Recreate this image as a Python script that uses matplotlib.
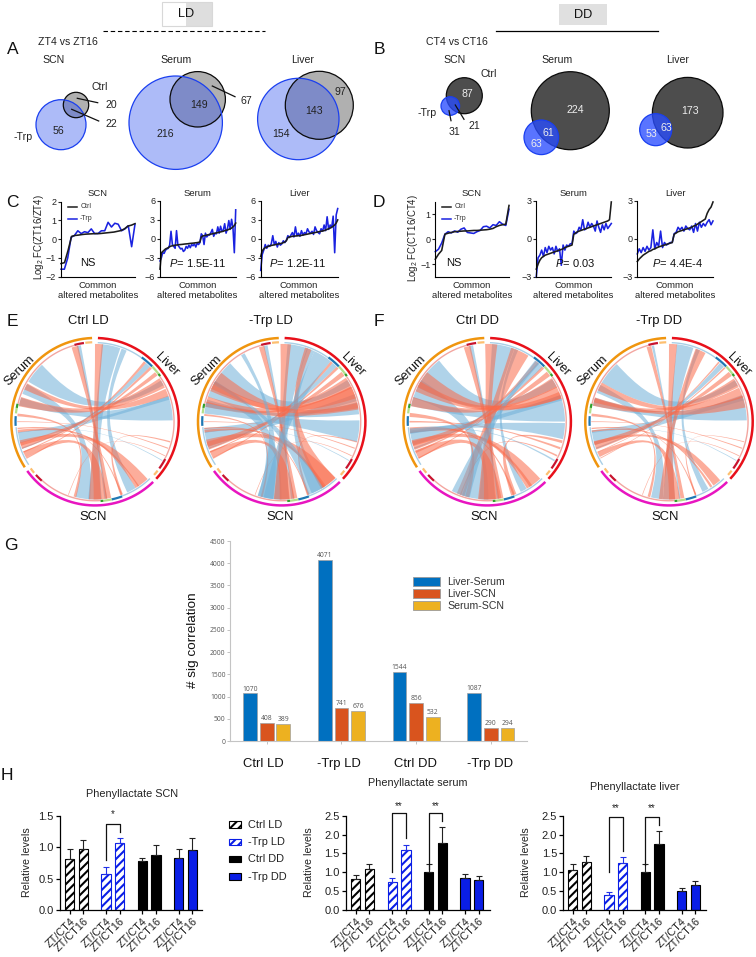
import numpy as np
import matplotlib
matplotlib.use('Agg')
import matplotlib.pyplot as plt
from matplotlib.patches import Circle, Rectangle, PathPatch
from matplotlib.path import Path

plt.rcParams['font.family'] = ['Liberation Sans', 'DejaVu Sans']
plt.rcParams['mathtext.fontset'] = 'custom'
plt.rcParams['mathtext.rm'] = 'Liberation Sans'
plt.rcParams['mathtext.it'] = 'Liberation Sans:italic'
plt.rcParams['mathtext.default'] = 'regular'
plt.rcParams['hatch.linewidth'] = 1.5

W, H = 756, 957

# ---------- data ----------
VENN_A_COUNTS = [('20', 111, 105), ('22', 111, 124), ('56', 58, 131), ('216', 165.7, 134), ('149', 199, 105),
                 ('67', 246.7, 101), ('154', 280.7, 134), ('143', 314, 111), ('97', 340, 92)]
VENN_B_COUNTS_DARK = [('31', 454, 132), ('21', 474, 126.3)]
VENN_B_COUNTS_WHITE = [('87', 467.3, 94.3), ('224', 575, 110), ('61', 548, 132.7), ('63', 536.3, 144),
                       ('173', 689.7, 111.3), ('63', 666.3, 128), ('53', 651.3, 134)]
# (centre x, centre y, radius) in picture pixels, Ctrl then -Trp
VENN_A = [((76, 105, 12.7), (61, 124.7, 25)),
          ((197.7, 99.3, 27.7), (175.7, 122.7, 46.7)),
          ((319.3, 105.3, 34), (298.3, 119, 40.7))]
VENN_B = [((464.3, 95.7, 18), (450.3, 106, 9.3)),
          ((570.3, 110.7, 39), (541.3, 137.3, 17.3)),
          ((687.7, 112.7, 35.3), (655.7, 129.7, 16))]

C_SCN_CTRL = [-1.3, -1.25, -0.6, 0.15, 0.2, 0.22, 0.25, 0.27, 0.28, 0.29, 0.3, 0.3, 0.32, 0.34, 0.36, 0.38, 0.42, 0.46, 0.55, 0.7, 0.75, 0.83]
C_SCN_TRP = [-1.6, -1.6, -1.0, 0.1, 0.2, 0.45, 0.3, 0.4, 0.35, 0.55, 0.3, 0.3, 0.45, 0.45, 0.9, 0.65, 0.85, 0.8, 0.45, 0.55, 0.72, -0.4, 0.8]
C_SERUM_CTRL = [-4.8, -2.2, -2.0, -1.8, -1.6, -1.5, -1.4, -1.25, -1.15, -1.1, -1.05, -1.0, -0.98, -0.95, -0.92, -0.9, -0.88, -0.85, -0.82, -0.8, -0.78, -0.75, -0.72, -0.7, -0.68, -0.65, -0.62, -0.6, -0.55, -0.5, 0.3, 0.45, 0.5, 0.55, 0.6, 0.65, 0.7, 0.75, 0.8, 0.85, 0.9, 0.95, 1.0, 1.05, 1.1, 1.15, 1.2, 1.3, 1.35, 1.4, 1.5, 1.6, 1.7, 1.9, 2.1, 2.5]
C_SERUM_TRP = [-3.5, -3.0, -2.2, -2.3, -1.8, -1.6, -1.5, -1.0, 1.2, -0.9, -1.2, -1.5, 1.3, -1.0, -1.3, -1.6, -1.5, -2.0, -1.8, -1.2, -1.5, -1.0, -1.4, -0.9, -1.1, -0.8, -1.3, -0.7, -0.9, -0.6, 0.8, 0.5, -0.9, 0.9, 0.3, 0.6, 0.6, 1.0, 1.5, 0.4, 0.9, 0.8, 1.9, 0.9, 2.0, 1.2, 1.4, 2.4, 0.9, 1.6, 2.9, 1.5, 3.1, 1.8, -2.2, 4.6]
C_LIVER_CTRL = [-2.8, -1.9, -1.6, -1.4, -1.3, -1.2, -1.1, -1.05, -1.0, -0.95, -0.9, -0.85, -0.8, -0.75, -0.7, -0.6, -0.5, -0.3, 0.2, 0.3, 0.35, 0.4, 0.42, 0.45, 0.48, 0.5, 0.52, 0.55, 0.6, 0.65, 0.7, 0.75, 0.8, 0.85, 0.9, 0.95, 1.0, 1.05, 1.1, 1.15, 1.2, 1.25, 1.3, 1.4, 1.5, 1.6, 1.7, 1.85, 2.0, 2.2, 2.5, 3.0]
C_LIVER_TRP = [-5.0, -2.5, -1.8, -0.9, -1.5, -1.0, -1.2, -0.8, 0.5, -0.9, -0.4, -1.3, -0.6, -1.0, -0.8, -0.3, -0.6, -0.2, 0.5, 0.2, 0.6, 1.0, 0.3, 1.9, 0.5, 0.9, 0.4, 1.3, 0.6, 1.0, 0.8, 1.6, 1.1, 0.9, 1.2, 0.7, 1.9, 1.3, 1.0, 0.8, 1.6, 1.2, 2.2, 1.3, 3.5, 1.5, 2.2, 1.8, 3.6, -2.2, 3.8, 4.8]
D_SCN_CTRL = [-0.8, -0.6, -0.45, 0.2, 0.24, 0.27, 0.3, 0.31, 0.32, 0.33, 0.33, 0.34, 0.35, 0.35, 0.36, 0.37, 0.38, 0.4, 0.43, 0.5, 0.55, 0.58, 0.6, 1.35]
D_SCN_TRP = [-0.5, -0.4, -0.15, 0.2, 0.3, 0.25, 0.33, 0.28, 0.4, 0.45, 0.27, 0.25, 0.23, 0.3, 0.35, 0.5, 0.52, 0.45, 0.58, 0.55, 0.7, 0.6, 0.55, 1.2]
D_SERUM_CTRL = [-2.4, -2.0, -1.7, -1.5, -1.4, -1.3, -1.25, -1.2, -1.15, -1.1, -1.05, -1.0, -0.95, -0.9, -0.85, -0.8, -0.7, -0.65, -0.6, -0.55, -0.5, 0.35, 0.45, 0.55, 0.6, 0.65, 0.7, 0.75, 0.8, 0.85, 0.9, 0.95, 1.0, 1.05, 1.1, 1.15, 1.2, 1.25, 1.3, 1.35, 1.4, 1.5, 2.9]
D_SERUM_TRP = [-3.0, -1.5, -1.3, -0.9, -1.4, -0.7, -1.1, -0.6, -0.9, -0.7, -1.2, -0.6, -1.0, -0.8, -2.1, -0.5, -0.9, -0.5, -0.6, -0.4, -0.4, 0.6, 0.4, 0.5, 0.9, 0.7, 1.5, 0.7, 0.8, 1.3, 0.9, 1.2, 1.0, 0.6, 1.4, 0.9, 0.5, 1.1, 0.7, 1.2, 0.8, 1.0, 1.2]
D_LIVER_CTRL = [-1.8, -1.6, -1.45, -1.3, -1.2, -1.1, -1.0, -0.95, -0.85, -0.8, -0.72, -0.65, -0.6, -0.55, -0.5, -0.45, -0.4, -0.35, -0.3, 0.35, 0.45, 0.55, 0.6, 0.65, 0.7, 0.75, 0.8, 0.85, 0.9, 1.0, 1.05, 1.15, 1.25, 1.35, 1.45, 1.55, 2.0, 2.3, 2.5, 2.9]
D_LIVER_TRP = [-1.2, -0.8, -1.1, -0.7, -1.0, -0.6, -0.9, -0.7, 0.7, -0.8, -0.3, -0.6, 0.6, -0.7, -0.3, -0.5, -0.4, -0.3, -0.3, 0.4, 0.5, 0.9, 0.7, 0.9, 0.6, 1.0, 0.8, 0.7, 1.0, 0.5, 1.2, 0.6, 1.3, 0.9, 1.2, 1.0, 1.3, 1.5, 1.1, 1.4]

# chords: centre angle and width at both ends, in degrees clockwise from the top
BASE_A = [80, 309, 12, 258, 189, 152, 43, 348, 120, 60, 68, 254, 245, 180, 345, 110, 116, 46, 40, 275, 265, 160, 147, 252]
BASE_AW = [18, 16, 14, 8, 11, 7, 4, 3, 0.6, 8, 6, 4, 5, 9, 5, 0.8, 0.6, 2, 2, 2, 1, 2, 3, 5]
BASE_B = [285, 60, 180, 72, 295, 22, 250, 172, 262, 285, 297, 142, 176, 3, 170, 270, 200, 242, 247, 195, 160, 105, 263, 52]
BASE_BW = [6, 4, 10, 3, 8, 4, 1, 2, 0.5, 7, 5, 9, 10, 6, 4, 0.6, 0.5, 1, 1, 2, 1, 1, 2, 3]
BASE_KIND = list('bbbbbbbbbrrrrrrrrrrrrrrr')
SCALE_CTRL_LD = [1.0] * 24
SCALE_TRP_LD = [0.5, 1.2, 1.1, 1.8, 1.6, 1.5, 1, 1, 1, 1.1, 1.5, 1.3, 1.1, 1.3, 0.8, 1, 1, 1, 1, 0.7, 1, 1, 1, 1.2]
SCALE_CTRL_DD = [1.1, 1.6, 1.2, 1.4, 1.8, 0.7, 1.2, 1, 2, 1.0, 1.6, 1.1, 1.3, 1.5, 1.0, 2, 2, 1, 1.4, 1.5, 1.5, 2, 1.5, 1.3]
SCALE_TRP_DD = [1.0, 1.1, 0.9, 1.4, 0.8, 0.7, 1, 0.6, 1, 0.9, 1.3, 0.7, 0.8, 1.0, 0.7, 1, 1, 0.6, 0.6, 1, 1, 0.6, 0.6, 1.2]
EXTRA_CTRL_LD = []
EXTRA_TRP_LD = [(72, 18, 283, 4, 'r'), (97, 16, 280, 8, 'b'), (143, 13, 20, 5, 'r'), (154, 12, 300, 3, 'b'),
                (32, 14, 190, 7, 'b'), (302, 14, 78, 4, 'r'), (192, 12, 330, 3, 'b')]
EXTRA_CTRL_DD = [(25, 14, 200, 6, 'r'), (97, 12, 263, 4, 'b'), (200, 14, 40, 4, 'b'), (303, 13, 70, 5, 'r')]
EXTRA_TRP_DD = [(75, 9, 286, 3, 'r'), (24, 8, 186, 3, 'r')]

G_GROUPS = ['Ctrl LD', '-Trp LD', 'Ctrl DD', '-Trp DD']
G_LIVER_SERUM = [1070, 4071, 1544, 1087]
G_LIVER_SCN = [408, 741, 856, 290]
G_SERUM_SCN = [389, 676, 532, 294]
G_SERIES = ['Liver-Serum', 'Liver-SCN', 'Serum-SCN']

H_TICKS = ['ZT/CT4', 'ZT/CT16'] * 4
H_SCN = [0.81, 0.97, 0.58, 1.07, 0.78, 0.87, 0.82, 0.95]
H_SCN_TOP = [0.97, 1.11, 0.68, 1.14, 0.83, 1.03, 0.97, 1.15]
H_SERUM = [0.82, 1.10, 0.73, 1.60, 1.02, 1.78, 0.84, 0.80]
H_SERUM_TOP = [0.92, 1.21, 0.85, 1.72, 1.21, 2.19, 0.95, 0.89]
H_LIVER = [1.05, 1.27, 0.39, 1.25, 1.01, 1.74, 0.50, 0.65]
H_LIVER_TOP = [1.22, 1.42, 0.47, 1.40, 1.23, 2.09, 0.58, 0.78]
H_GROUPS = ['Ctrl LD', '-Trp LD', 'Ctrl DD', '-Trp DD']

BLUE = '#0a1ee6'

# ---------- canvas ----------
fig = plt.figure(figsize=(W / 100, H / 100), dpi=100, facecolor='white')
ov = fig.add_axes([0, 0, 1, 1], zorder=5)
ov.set_xlim(0, W); ov.set_ylim(H, 0); ov.axis('off'); ov.patch.set_alpha(0)


def T(x, y, s, size=7.6, color='#111111', **kw):
    kw.setdefault('ha', 'center'); kw.setdefault('va', 'center')
    ov.text(x, y, s, fontsize=size, color=color, **kw)


def px_axes(x0, x1, top, bot):
    a = fig.add_axes([x0 / W, 1 - bot / H, (x1 - x0) / W, (bot - top) / H])
    for s in ('top', 'right'):
        a.spines[s].set_visible(False)
    return a


for s, x, y in [('A', 12.7, 50), ('B', 379, 50), ('C', 12.7, 202.7), ('D', 379, 202.7), ('E', 12.7, 321),
                ('F', 379, 321), ('G', 11, 546), ('H', 7, 775)]:
    T(x, y, s, 12.5, '#111111')

# header boxes
ov.add_patch(Rectangle((161.7, 1.5), 24.3, 24, fc='white', ec='none'))
ov.add_patch(Rectangle((186, 1.5), 25.7, 24, fc='#dedede', ec='none'))
ov.add_patch(Rectangle((161.7, 1.5), 50, 24, fc='none', ec='#d8d8d8', lw=0.8))
T(186, 14, 'LD', 9.2)
ov.plot([103, 265], [31.3, 31.3], color='k', lw=0.8, ls=(0, (4, 2.5)))
ov.add_patch(Rectangle((559, 4), 48, 21, fc='#e0e0e0', ec='none'))
T(583, 14.7, 'DD', 9.2)
ov.plot([496.3, 658], [31.3, 31.3], color='k', lw=0.9)

# ---------- Venn ----------
for c, b in VENN_A:
    ov.add_patch(Circle(c[:2], c[2], fc='#b0b0b0', ec='none'))
    ov.add_patch(Circle(b[:2], b[2], fc='#3355ee', alpha=0.4, ec='none'))
    ov.add_patch(Circle(c[:2], c[2], fc='none', ec='#0a0a0a', lw=0.9))
    ov.add_patch(Circle(b[:2], b[2], fc='none', ec='#1a3ff0', lw=0.9))
for c, b in VENN_B:
    ov.add_patch(Circle(c[:2], c[2], fc='#4d4d4d', ec='#0a0a0a', lw=0.9))
    ov.add_patch(Circle(b[:2], b[2], fc='#2a4dff', alpha=0.78, ec='none'))
    ov.add_patch(Circle(b[:2], b[2], fc='none', ec='#1a3ff0', lw=0.9))
for s, x, y in [('ZT4 vs ZT16', 67.7, 42), ('SCN', 54, 60), ('Serum', 175.7, 60), ('Liver', 302.3, 60), ('Ctrl', 100, 87),
                ('-Trp', 22.7, 137), ('CT4 vs CT16', 457, 42), ('SCN', 454.7, 60), ('Serum', 557.3, 60), ('Liver', 677.3, 60),
                ('Ctrl', 488.7, 74), ('-Trp', 427.3, 113)]:
    T(x, y, s, 7.6, '#222222')
for s, x, y in VENN_A_COUNTS + VENN_B_COUNTS_DARK:
    T(x, y, s, 7.6, '#222222')
for s, x, y in VENN_B_COUNTS_WHITE:
    T(x, y, s, 7.6, '#eeeeee')
for xs, ys in [((77.3, 97.7), (98.3, 102.7)), ((71.7, 98.7), (109.3, 121)), ((212.3, 235), (86, 96.7)),
               ((449, 451), (110.7, 120.7)), ((455.3, 464), (105, 119.3))]:
    ov.plot(xs, ys, color='#111111', lw=0.9)


# ---------- line panels ----------
def line_panel(box, ctrl, trp, ylim, ticks):
    a = px_axes(*box)
    a.plot(np.linspace(0, 1, len(trp)), trp, color='#1a22e0', lw=1.15, clip_on=False)
    a.plot(np.linspace(0, 1, len(ctrl)), ctrl, color='#1c1c1c', lw=1.15, clip_on=False)
    a.set_xlim(0, 1); a.set_ylim(*ylim)
    a.set_xticks([]); a.set_yticks(ticks)
    a.tick_params(axis='y', labelsize=6.5, length=2.5, width=0.8, pad=1, colors='#222222')
    for s in ('left', 'bottom'):
        a.spines[s].set_linewidth(0.8)
    return a


line_panel((61, 135, 201.7, 276.7), C_SCN_CTRL, C_SCN_TRP, (-2, 2), [-2, -1, 0, 1, 2])
line_panel((160, 235.7, 201, 276.7), C_SERUM_CTRL, C_SERUM_TRP, (-6, 6), [-6, -3, 0, 3, 6])
line_panel((260.7, 337.7, 201, 276.7), C_LIVER_CTRL, C_LIVER_TRP, (-6, 6), [-6, -3, 0, 3, 6])
line_panel((435.3, 509, 201.7, 276.7), D_SCN_CTRL, D_SCN_TRP, (-1.5, 1.5), [-1, 0, 1])
line_panel((536.3, 611.3, 200.7, 276.7), D_SERUM_CTRL, D_SERUM_TRP, (-3, 3), [-3, 0, 3])
line_panel((637.3, 713, 200.7, 276.7), D_LIVER_CTRL, D_LIVER_TRP, (-3, 3), [-3, 0, 3])

for s, x in [('SCN', 97.7), ('Serum', 197.3), ('Liver', 299), ('SCN', 471.7), ('Serum', 573.3), ('Liver', 675)]:
    T(x, 194, s, 6.8, '#222222')
    T(x, 285.3, 'Common', 6.8, '#222222')
    T(x, 296, 'altered metabolites', 6.8, '#222222')
T(38.7, 236.7, 'Log$_2$ FC(ZT16/ZT4)', 6.9, '#222222', rotation=90)
T(413, 238, 'Log$_2$ FC(CT16/CT4)', 6.9, '#222222', rotation=90)
for x0, xt in [(67.7, 85.7), (441.7, 460)]:
    ov.plot([x0, x0 + 9], [206.7, 206.7], color='#1c1c1c', lw=1.1)
    ov.plot([x0, x0 + 9], [219, 219], color='#1a22e0', lw=1.1)
    T(xt, 207, 'Ctrl', 5, '#333333')
    T(xt, 219, '-Trp', 5, '#333333')
T(87.7, 263.3, 'NS', 8)
T(454, 263.3, 'NS', 8)
T(197.3, 263.3, '$\\mathit{P}$= 1.5E-11', 8)
T(297.7, 263.3, '$\\mathit{P}$= 1.2E-11', 8)
T(574.7, 263.3, '$\\mathit{P}$= 0.03', 8)
T(678, 263.3, '$\\mathit{P}$= 4.4E-4', 8)

# ---------- chord diagrams ----------
RING = [(2, 133, '#e8101a'), (136, 234, '#e815c0'), (237, 358, '#f0950e')]
INNER = [(2, 36, '#a9cfe6'), (55, 118, '#f3a6a0'), (136, 160, '#a9cfe6'), (176, 222, '#f3a6a0'),
         (237, 266, '#a9cfe6'), (283, 345, '#f3a6a0')]
MARKS = [(36, 46, '#1f78b4'), (46, 53, '#b2df8a'), (53, 55, '#33a02c'), (118, 126, '#c8142e'), (128, 132, '#fdbf6f'),
         (160, 168, '#1f78b4'), (168, 174, '#b2df8a'), (174, 176, '#33a02c'), (222, 228, '#c8142e'), (230, 234, '#fdbf6f'),
         (267, 274, '#1f78b4'), (276, 280, '#b2df8a'), (280, 283, '#33a02c'), (345, 352, '#c8142e'), (353, 358, '#fdbf6f')]
CHORD_COL = {'b': '#6fb0d8', 'r': '#fa6a4a'}


def arc_xy(cx, cy, r, a, b):
    d = np.radians(np.linspace(a, b, 40))
    return cx + r * np.sin(d), cy - r * np.cos(d)


def inward(cx, cy, x, y, f=0.22):
    return cx + (x - cx) * f, cy + (y - cy) * f


def chord(cx, cy, r, a, aw, b, bw, kind):
    ax_, ay_ = arc_xy(cx, cy, r, a - aw / 2, a + aw / 2)
    bx_, by_ = arc_xy(cx, cy, r, b - bw / 2, b + bw / 2)
    verts = list(zip(ax_, ay_))
    codes = [Path.MOVETO] + [Path.LINETO] * (len(ax_) - 1)
    verts += [inward(cx, cy, ax_[-1], ay_[-1]), inward(cx, cy, bx_[0], by_[0]), (bx_[0], by_[0])]
    codes += [Path.CURVE4] * 3
    verts += list(zip(bx_[1:], by_[1:]))
    codes += [Path.LINETO] * (len(bx_) - 1)
    verts += [inward(cx, cy, bx_[-1], by_[-1]), inward(cx, cy, ax_[0], ay_[0]), (ax_[0], ay_[0])]
    codes += [Path.CURVE4] * 3
    ov.add_patch(PathPatch(Path(verts, codes), fc=CHORD_COL[kind], ec='none', alpha=0.55))


def chord_panel(cx, cy, scale, extras):
    R = 85
    order = [i for i in range(len(BASE_A)) if BASE_KIND[i] == 'b'] + [i for i in range(len(BASE_A)) if BASE_KIND[i] == 'r']
    for i in order:
        chord(cx, cy, R * 0.915, BASE_A[i], BASE_AW[i] * scale[i], BASE_B[i], BASE_BW[i] * scale[i], BASE_KIND[i])
    for e in extras:
        chord(cx, cy, R * 0.915, *e)
    for a, b, c in INNER:
        ov.plot(*arc_xy(cx, cy, R * 0.93, a, b), color=c, lw=1.0, solid_capstyle='butt')
    for a, b, c in MARKS:
        ov.plot(*arc_xy(cx, cy, R * 0.935, a, b), color=c, lw=1.6, solid_capstyle='butt')
    for a, b, c in RING:
        ov.plot(*arc_xy(cx, cy, R * 0.985, a, b), color=c, lw=1.8, solid_capstyle='butt')


chord_panel(95, 421.7, SCALE_CTRL_LD, EXTRA_CTRL_LD)
chord_panel(281.7, 421.7, SCALE_TRP_LD, EXTRA_TRP_LD)
chord_panel(487.2, 421.7, SCALE_CTRL_DD, EXTRA_CTRL_DD)
chord_panel(669, 421.7, SCALE_TRP_DD, EXTRA_TRP_DD)
for s, x in [('Ctrl LD', 88.3), ('-Trp LD', 270.7), ('Ctrl DD', 477), ('-Trp DD', 658.7)]:
    T(x, 320.7, s, 9.4)
for xs, xl, xn in [(20, 166.7, 92.7), (206.7, 353.3, 280), (410.7, 558, 484), (593, 739, 665.3)]:
    T(xs, 370.7, 'Serum', 9.2, rotation=45)
    T(xl, 364.3, 'Liver', 9.2, rotation=-45)
    T(xn, 516.7, 'SCN', 9.4)

# ---------- G ----------
ag = px_axes(230.3, 526.7, 541, 741)
gcol = ['#0070c0', '#d9541e', '#edb120']
gx = np.arange(4)
for k, vals in enumerate([G_LIVER_SERUM, G_LIVER_SCN, G_SERUM_SCN]):
    off = (k - 1) * 0.223
    ag.bar(gx + off, vals, 0.183, color=gcol[k], edgecolor='#a0a0a0', linewidth=0.5)
    for x, v in zip(gx, vals):
        ag.text(x + off, v + 20, str(v), ha='center', va='bottom', fontsize=4.9, color='#555555', family='Open Sans')
ag.set_xlim(-0.487, 3.482); ag.set_ylim(0, 4500)
ag.set_yticks(np.arange(0, 4501, 500))
ag.set_xticks(gx); ag.set_xticklabels([])
ag.tick_params(axis='both', length=2, width=0.5, color='#aaaaaa', pad=1.5)
ag.tick_params(axis='y', labelsize=4.9, labelcolor='#555555')
for l in ag.get_yticklabels():
    l.set_family('Open Sans')
for s in ('left', 'bottom'):
    ag.spines[s].set_color('#c4c4c4'); ag.spines[s].set_linewidth(0.8)
for s, x in zip(G_GROUPS, [263.7, 339, 415.7, 490]):
    T(x, 764, s, 9.4)
T(192.7, 640, '# sig correlation', 9.7, rotation=90)
for s, c, y in zip(G_SERIES, gcol, [577.3, 589.3, 601.3]):
    ov.add_patch(Rectangle((413, y), 27.3, 8.8, fc=c, ec='#9a9a9a', lw=0.6))
    T(447.3, y + 4.4, s, 7.6, '#333333', ha='left')

# ---------- H ----------
HX = [0, 1, 2.66, 3.66, 5.32, 6.32, 7.98, 8.98]
H_FC = ['white', 'white', 'white', 'white', 'black', 'black', BLUE, BLUE]
H_EC = ['black', 'black', BLUE, BLUE, 'black', 'black', 'black', 'black']
H_HATCH = ['////', '////', '////', '////', None, None, None, None]
H_ERRC = ['#222222', '#222222', '#2030e8', '#2030e8', '#222222', '#222222', '#222222', '#222222']


def h_panel(box, xl, vals, tops, ylim, yticks, brackets, star_y):
    a = px_axes(box[0], box[1], 815.7, 910)
    for x, v, t, fc, ec, ha, ecol in zip(HX, vals, tops, H_FC, H_EC, H_HATCH, H_ERRC):
        a.bar(x, v, 0.68, color=fc, edgecolor=ec, hatch=ha, linewidth=0.8)
        a.errorbar(x, v, yerr=[[0], [t - v]], color=ecol, capsize=2, elinewidth=0.8, capthick=0.8, clip_on=False)
    a.set_xlim(*xl); a.set_ylim(*ylim)
    a.set_xticks(HX)
    a.set_xticklabels(H_TICKS, rotation=45, ha='right', rotation_mode='anchor', fontsize=7.8, color='#222222')
    a.set_yticks(yticks)
    a.set_yticklabels([f'{t:.1f}' for t in yticks], fontsize=8, color='#222222')
    a.tick_params(axis='both', length=3, width=0.9, pad=1.5)
    for s in ('left', 'bottom'):
        a.spines[s].set_linewidth(0.9)
    for (x1, x2, low1, top, low2, stars) in brackets:
        a.plot([HX[x1], HX[x1], HX[x2], HX[x2]], [low1, top, top, low2], color='#111111', lw=0.9, clip_on=False)
        a.text((HX[x1] + HX[x2]) / 2, star_y, stars, ha='center', va='center', fontsize=7, color='#222222', clip_on=False)


h_panel((60, 201.7), (-0.71, 9.66), H_SCN, H_SCN_TOP, (0, 1.5), [0, 0.5, 1.0, 1.5], [(2, 3, 0.8, 1.37, 1.24, '*')], 1.52)
h_panel((346, 490), (-0.71, 9.8), H_SERUM, H_SERUM_TOP, (0, 2.5), [0, 0.5, 1.0, 1.5, 2.0, 2.5],
        [(2, 3, 1.02, 2.56, 1.9, '**'), (4, 5, 1.1, 2.56, 2.36, '**')], 2.75)
h_panel((563.3, 705.7), (-0.68, 9.75), H_LIVER, H_LIVER_TOP, (0, 2.5), [0, 0.5, 1.0, 1.5, 2.0, 2.5],
        [(2, 3, 1.02, 2.46, 1.57, '**'), (4, 5, 1.19, 2.46, 2.25, '**')], 2.7)

T(131.7, 794.3, 'Phenyllactate SCN', 7.8, '#222222')
T(417.3, 783.3, 'Phenyllactate serum', 7.8, '#222222')
T(635, 786.7, 'Phenyllactate liver', 7.8, '#222222')
for x in (27.3, 309, 525.7):
    T(x, 861.7, 'Relative levels', 7.7, '#222222', rotation=90)
for s, y, fc, ec, ha in zip(H_GROUPS, [821.3, 838.7, 855.7, 873.3], ['white', 'white', 'black', BLUE],
                            ['black', BLUE, 'black', 'black'], ['////', '////', None, None]):
    ov.add_patch(Rectangle((228.7, y), 12, 6.4, fc=fc, ec=ec, hatch=ha, lw=0.8))
    T(247.7, y + 3.3, s, 7.9, '#222222', ha='left')

fig.savefig('out.png', dpi=100)
